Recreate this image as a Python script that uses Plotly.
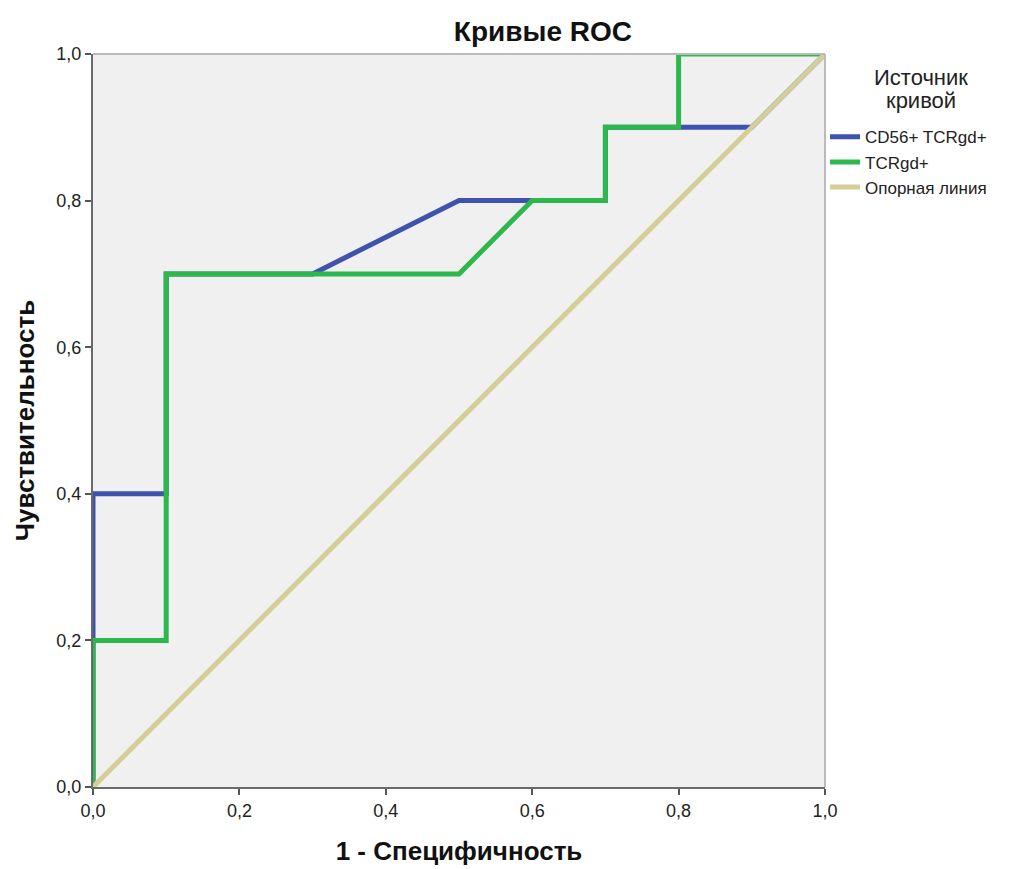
import plotly.graph_objects as go

# Data (1 - specificity, sensitivity)
cd56_fpr = [0.0, 0.0, 0.1, 0.1, 0.3, 0.5, 0.6, 0.7, 0.7, 0.9, 1.0]
cd56_tpr = [0.0, 0.4, 0.4, 0.7, 0.7, 0.8, 0.8, 0.8, 0.9, 0.9, 1.0]
tcr_fpr = [0.0, 0.0, 0.1, 0.1, 0.5, 0.6, 0.7, 0.7, 0.8, 0.8, 1.0]
tcr_tpr = [0.0, 0.2, 0.2, 0.7, 0.7, 0.8, 0.8, 0.9, 0.9, 1.0, 1.0]
ref_x = [0.0, 1.0]
ref_y = [0.0, 1.0]
tick_vals = [0.0, 0.2, 0.4, 0.6, 0.8, 1.0]
names = ["CD56+ TCRgd+", "TCRgd+", "Опорная линия"]
legend_title_lines = ["Источник", "кривой"]

BLUE = "#3F52AE"
GREEN = "#2DB84B"
TAN = "#D5CE98"

fig = go.Figure()
fig.add_trace(go.Scatter(x=cd56_fpr, y=cd56_tpr, mode="lines", name=names[0],
                         line=dict(color=BLUE, width=5)))
fig.add_trace(go.Scatter(x=tcr_fpr, y=tcr_tpr, mode="lines", name=names[1],
                         line=dict(color=GREEN, width=5)))
fig.add_trace(go.Scatter(x=ref_x, y=ref_y, mode="lines", name=names[2],
                         line=dict(color=TAN, width=5)))

axis_common = dict(
    range=[0, 1], tickvals=tick_vals, tickformat=".1f", automargin=False,
    showgrid=False, zeroline=False, showline=True, linecolor="#6a6a6a", linewidth=2,
    ticks="outside", ticklen=6, tickwidth=2, tickcolor="#555555",
    tickfont=dict(family="Liberation Sans, Arial", size=18, color="#222222"),
)

fig.update_layout(
    width=1011, height=869,
    margin=dict(l=93, r=186, t=54, b=82),
    separators=", ",
    plot_bgcolor="#F0F0F0", paper_bgcolor="white",
    font=dict(family="Liberation Sans, Arial", color="#222222"),
    title=dict(text="<b>Кривые ROC</b>", x=0.537, xanchor="center", y=0.964, yanchor="middle",
               font=dict(size=28, color="#111111")),
    xaxis=dict(axis_common, title=dict(text="<b>1 - Специфичность</b>", standoff=22,
                                       font=dict(size=26, color="#111111"))),
    yaxis=dict(axis_common, title=dict(text="<b>Чувствительность</b>", standoff=14,
                                       font=dict(size=26, color="#111111"))),
    legend=dict(x=1.0, y=0.911, xanchor="left", yanchor="top",
                bgcolor="rgba(0,0,0,0)", itemwidth=30, tracegroupgap=0,
                font=dict(size=17, color="#222222")),
    shapes=[
        dict(type="line", xref="paper", yref="paper", x0=0, x1=1, y0=1, y1=1,
             line=dict(color="#BBBBBB", width=2)),
        dict(type="line", xref="paper", yref="paper", x0=1, x1=1, y0=0, y1=1,
             line=dict(color="#BBBBBB", width=2)),
    ],
    annotations=[
        dict(text=legend_title_lines[0], xref="paper", yref="paper", x=1.131, y=0.968,
             xanchor="center", yanchor="middle", showarrow=False,
             font=dict(size=22, color="#222222")),
        dict(text=legend_title_lines[1], xref="paper", yref="paper", x=1.131, y=0.937,
             xanchor="center", yanchor="middle", showarrow=False,
             font=dict(size=22, color="#222222")),
    ],
)

fig.write_html("out.html")
